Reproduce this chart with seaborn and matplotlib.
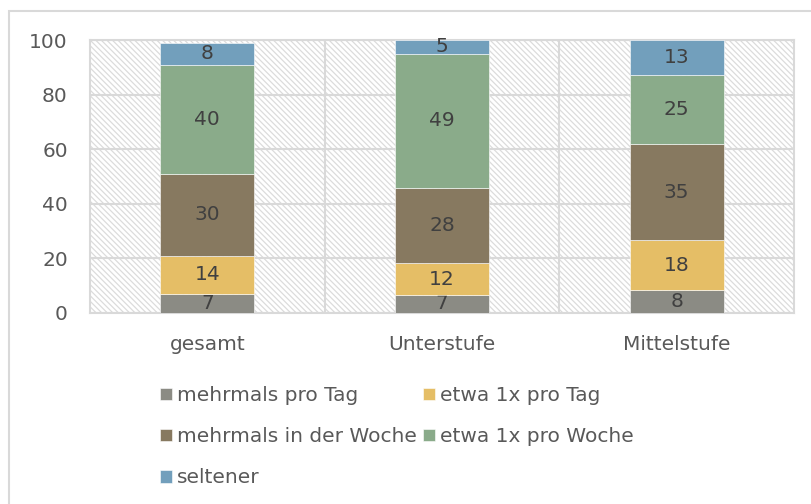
import numpy as np
import pandas as pd
import matplotlib
matplotlib.use('Agg')
import matplotlib.pyplot as plt
from matplotlib.patches import Rectangle
import seaborn as sns

# Daten (Prozent)
kategorien = ['gesamt', 'Unterstufe', 'Mittelstufe']
mehrmals_pro_tag = [7.0, 6.6, 8.4]
etwa_1x_pro_tag = [14.0, 11.7, 18.3]
mehrmals_in_der_woche = [30.0, 27.5, 35.2]
etwa_1x_pro_woche = [40.0, 49.1, 25.4]
seltener = [8.0, 5.1, 12.7]

serien = ['mehrmals pro Tag', 'etwa 1x pro Tag', 'mehrmals in der Woche',
          'etwa 1x pro Woche', 'seltener']
werte = [mehrmals_pro_tag, etwa_1x_pro_tag, mehrmals_in_der_woche,
         etwa_1x_pro_woche, seltener]
farben = ['#8B8B84', '#E5BE66', '#877960', '#8AAB8A', '#729FBC']

sns.set_style('white')
plt.rcParams['font.family'] = ['DejaVu Sans']
plt.rcParams['hatch.linewidth'] = 0.9

grau = '#D9D9D9'
textfarbe = '#595959'
fs = 14.5

fig = plt.figure(figsize=(8.11, 5.04), dpi=100)
ax = fig.add_axes([90 / 811, 1 - 313 / 504, (794 - 90) / 811, (313 - 40) / 504])

# schraffierter Hintergrund
ax.add_patch(Rectangle((0, 0), 1, 1, transform=ax.transAxes, facecolor='white',
                       hatch='\\' * 6, edgecolor='#DCDCDC', linewidth=0, zorder=0))

unten = np.zeros(len(kategorien))
for name, w, c in zip(serien, werte, farben):
    df = pd.DataFrame({'kat': kategorien, 'wert': w})
    sns.barplot(data=df, x='kat', y='wert', color=c, saturation=1, width=0.4,
                bottom=unten, label=name, edgecolor='white', linewidth=0.4,
                ax=ax, zorder=3)
    cont = ax.containers[-1]
    ax.bar_label(cont, labels=[str(int(round(v))) for v in w], label_type='center',
                 fontsize=fs, color='#404040')
    unten = unten + np.array(w)

if ax.get_legend() is not None:
    ax.get_legend().remove()

ax.set_ylim(0, 100)
ax.set_xlim(-0.5, 2.5)
ax.set_yticks([0, 20, 40, 60, 80, 100])
ax.set_xticks([0.5, 1.5], minor=True)
ax.set_xlabel('')
ax.set_ylabel('')
ax.set_axisbelow(True)
ax.grid(axis='y', color=grau, linewidth=1.5, zorder=1)
ax.grid(axis='x', which='minor', color=grau, linewidth=1.5, zorder=1)
ax.tick_params(axis='both', which='both', length=0, labelsize=fs, labelcolor=textfarbe)
ax.tick_params(axis='y', pad=16)
ax.tick_params(axis='x', pad=16)
for s in ax.spines.values():
    s.set_color(grau)
    s.set_linewidth(1.5)

handles, labels = ax.get_legend_handles_labels()
reihenfolge = [0, 2, 4, 1, 3]
leg = fig.legend([handles[i] for i in reihenfolge], [labels[i] for i in reihenfolge],
                 loc='upper left', ncol=2,
                 bbox_to_anchor=(160 / 811, 1 - 386 / 504), frameon=False,
                 fontsize=fs, labelcolor=textfarbe, handlelength=0.6,
                 handleheight=0.6, handletextpad=0.25, columnspacing=0.3,
                 labelspacing=1.1, borderaxespad=0, borderpad=0)

# äußerer Rahmen
fig.patches.append(Rectangle((9 / 811, -0.2), 1.2, 1.2 - 11 / 504,
                             transform=fig.transFigure, fill=False,
                             edgecolor=grau, linewidth=1.5))

plt.savefig('out.png', dpi=100)
